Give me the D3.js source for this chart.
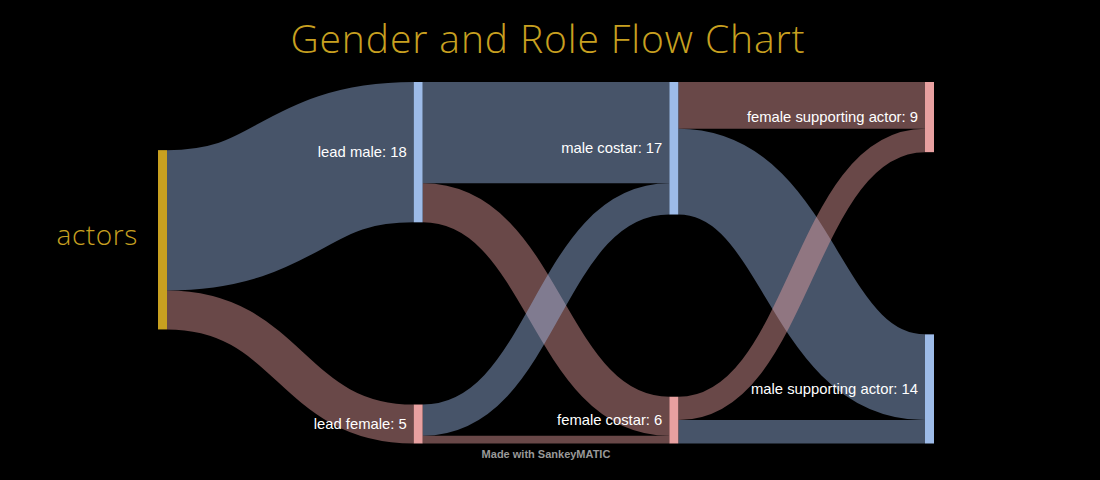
<!DOCTYPE html>
<html><head><meta charset="utf-8">
<script src="https://cdn.jsdelivr.net/npm/d3@7"></script>
<style>body{margin:0;background:#000;}svg{display:block;}</style>
</head><body>
<svg id="chart" width="1100" height="480"></svg>
<script>
// ---- data ----
const nodeNames = ["actors","lead male","lead female","male costar","female costar","female supporting actor","male supporting actor"];
const nodeColumns = [0,1,1,2,2,3,3];
const nodeColors = ["#c8a020","#9dbbe8","#e8a0a0","#9dbbe8","#e8a0a0","#e8a0a0","#9dbbe8"];
const linkSources = ["actors","actors","lead male","lead male","lead female","lead female","male costar","male costar","female costar","female costar"];
const linkTargets = ["lead male","lead female","male costar","female costar","male costar","female costar","female supporting actor","male supporting actor","female supporting actor","male supporting actor"];
const linkValues = [18,5,13,5,4,1,6,11,3,3];

// ---- layout ----
const W=1100,H=480, plotTop=82, plotBottom=443.5, nodeW=9;
const svg=d3.select("#chart");
svg.append("rect").attr("width",W).attr("height",H).attr("fill","#000");

const nodes = nodeNames.map((n,i)=>({name:n,col:nodeColumns[i],color:nodeColors[i],inL:[],outL:[]}));
const byName = new Map(nodes.map(n=>[n.name,n]));
const links = linkValues.map((v,i)=>({source:byName.get(linkSources[i]),target:byName.get(linkTargets[i]),value:v}));
links.forEach(l=>{l.source.outL.push(l);l.target.inL.push(l);});
nodes.forEach(n=>n.value=Math.max(d3.sum(n.inL,l=>l.value),d3.sum(n.outL,l=>l.value)));

const x = d3.scaleLinear().domain([0,3]).range([158,925]);
const maxCol = d3.max(d3.rollups(nodes,v=>d3.sum(v,d=>d.value),d=>d.col),d=>d[1]);
const ky = d3.scaleLinear().domain([0,maxCol]).range([0,(plotBottom-plotTop)*0.496]);
const colPos = {0:0.374};
d3.groups(nodes,d=>d.col).forEach(([c,ns])=>{
  const used = d3.sum(ns,d=>ky(d.value));
  const gap = (plotBottom-plotTop)-used;
  if(ns.length===1){ ns[0].y0 = plotTop + gap*colPos[c]; }
  else { let y=plotTop; ns.forEach(n=>{n.y0=y; y+=ky(n.value)+gap/(ns.length-1);}); }
  ns.forEach(n=>{n.y1=n.y0+ky(n.value); n.x0=x(c); n.x1=x(c)+nodeW;});
});
nodes.forEach(n=>{
  let y=n.y0; n.outL.forEach(l=>{l.w=ky(l.value); l.sy=y+l.w/2; y+=l.w;});
  y=n.y0; n.inL.forEach(l=>{l.ty=y+ky(l.value)/2; y+=ky(l.value);});
});

const linkGen = d3.linkHorizontal().source(d=>[d.source.x1,d.sy]).target(d=>[d.target.x0,d.ty]);
svg.append("g").selectAll("path").data(links).join("path")
  .attr("d",linkGen).attr("fill","none")
  .attr("stroke",d=>d.target.color).attr("stroke-opacity",0.45)
  .attr("stroke-width",d=>d.w);

svg.append("g").selectAll("rect").data(nodes).join("rect")
  .attr("x",d=>d.x0).attr("y",d=>d.y0).attr("width",nodeW).attr("height",d=>d.y1-d.y0)
  .attr("fill",d=>d.color);

svg.append("g").selectAll("text").data(nodes.filter(n=>n.col>0)).join("text")
  .attr("x",d=>d.x0-7).attr("y",d=>(d.y0+d.y1)/2).attr("dy","0.35em")
  .attr("text-anchor","end").attr("fill","#fff")
  .style("font-family","'Liberation Sans', Arial, sans-serif").style("font-size","14.8px")
  .text(d=>`${d.name}: ${d.value}`);
const a = nodes[0];
svg.append("text").attr("x",a.x0-20).attr("y",(a.y0+a.y1)/2).attr("dy","0.2em")
  .attr("text-anchor","end").attr("fill","#c8a020")
  .style("font-family","'Open Sans', sans-serif").style("font-weight","300").style("font-size","28px")
  .style("letter-spacing","0.6px")
  .text(a.name);

svg.append("text").attr("x",548).attr("y",53).attr("text-anchor","middle").attr("fill","#c8a020")
  .style("font-family","'Open Sans', sans-serif").style("font-weight","300").style("font-size","39px")
  .style("letter-spacing","0.9px")
  .text("Gender and Role Flow Chart");
svg.append("text").attr("x",546).attr("y",458).attr("text-anchor","middle").attr("fill","#999")
  .style("font-family","'Liberation Sans', Arial, sans-serif").style("font-weight","bold").style("font-size","11px")
  .text("Made with SankeyMATIC");
</script>
</body></html>
